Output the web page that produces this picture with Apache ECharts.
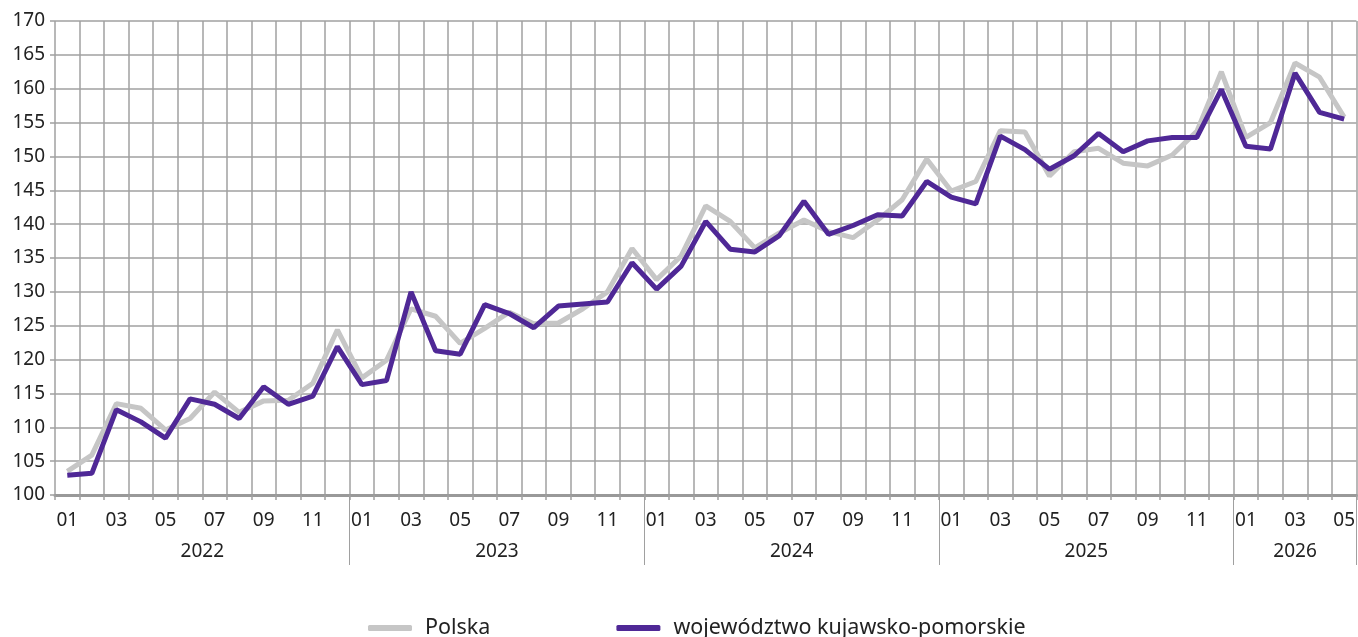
<!DOCTYPE html>
<html lang="pl">
<head>
<meta charset="UTF-8">
<title>Polska / województwo kujawsko-pomorskie</title>
<script src="https://cdn.jsdelivr.net/npm/echarts@6/dist/echarts.min.js"></script>
<style>
  html, body { margin: 0; padding: 0; background: #fff; }
  #main { width: 1358px; height: 637px; }
</style>
</head>
<body>
<div id="main"></div>
<script>
// months per year shown on the axis (2026 only up to May)
var years = ['2022', '2023', '2024', '2025', '2026'];
var monthsInYear = [12, 12, 12, 12, 5];
// where the year caption sits (month after the middle; 2026 is centred on 03)
var yearLabelMonth = ['07', '07', '07', '07', '03'];

var polska = [
  103.5, 105.9, 113.5, 112.8, 109.6, 111.3, 115.2, 112.2, 113.9, 114.0, 116.5, 124.4,
  117.3, 119.9, 127.5, 126.4, 122.4, 124.6, 127.0, 125.3, 125.4, 127.5, 130.0, 136.4,
  131.8, 135.3, 142.7, 140.4, 136.5, 138.7, 140.6, 138.9, 138.0, 140.6, 143.6, 149.6,
  144.9, 146.3, 153.8, 153.6, 147.1, 150.7, 151.2, 149.0, 148.6, 150.2, 153.7, 162.5,
  152.8, 155.0, 163.8, 161.7, 155.8
];
var kujPom = [
  102.9, 103.2, 112.6, 110.8, 108.4, 114.2, 113.4, 111.3, 116.0, 113.4, 114.6, 121.9,
  116.3, 116.9, 130.0, 121.3, 120.8, 128.1, 126.8, 124.7, 127.9, 128.2, 128.5, 134.3,
  130.4, 133.8, 140.4, 136.3, 135.9, 138.3, 143.4, 138.5, 139.8, 141.4, 141.2, 146.3,
  144.0, 143.0, 153.0, 151.0, 148.1, 150.1, 153.4, 150.7, 152.3, 152.8, 152.8, 159.9,
  151.5, 151.1, 162.3, 156.5, 155.5
];

var categories = [];
years.forEach(function (y, k) {
  for (var m = 1; m <= monthsInYear[k]; m++) {
    categories.push(y + '-' + (m < 10 ? '0' + m : '' + m));
  }
});

var FONT = 'Noto Sans';
var GRID_COLOR = '#a0a0a0';

var chart = echarts.init(document.getElementById('main'));
var option = {
  animation: false,
  textStyle: { fontFamily: FONT },
  grid: { left: 55, right: 0, top: 21, bottom: 142, containLabel: false },
  legend: {
    left: 363,
    top: 612,
    itemGap: 126,
    itemWidth: 44,
    itemHeight: 6,
    icon: 'roundRect',
    textStyle: { fontSize: 21.5, color: '#222', fontFamily: FONT, padding: [0, 0, 0, 8] },
    data: ['Polska', 'województwo kujawsko-pomorskie']
  },
  xAxis: [
    {
      type: 'category',
      data: categories,
      boundaryGap: true,
      axisLine: { show: true, lineStyle: { color: '#999', width: 3 } },
      axisTick: { show: true, interval: 0, length: 5, lineStyle: { color: GRID_COLOR, width: 1.5 } },
      axisLabel: {
        interval: function (idx) { return idx % 2 === 0; },
        formatter: function (v) { return v.slice(5); },
        color: '#222', fontSize: 19, margin: 16, fontFamily: FONT
      },
      splitLine: { show: true, interval: 0, lineStyle: { color: GRID_COLOR, width: 1.5 } }
    },
    {
      type: 'category',
      data: categories,
      position: 'bottom',
      boundaryGap: true,
      axisLine: { show: false },
      axisTick: {
        show: true,
        length: 70,
        interval: function (idx, v) { return idx > 0 && v.slice(5) === '01'; },
        lineStyle: { color: '#a0a0a0', width: 1 }
      },
      axisLabel: {
        interval: function (idx, v) {
          var k = years.indexOf(v.slice(0, 4));
          return v.slice(5) === yearLabelMonth[k];
        },
        formatter: function (v) {
          var y = v.slice(0, 4);
          return y === '2026' ? '{c|' + y + '}' : '{s|' + y + '}';
        },
        rich: {
          s: { fontSize: 19, color: '#222', fontFamily: FONT, padding: [0, 24.6, 0, 0] },
          c: { fontSize: 19, color: '#222', fontFamily: FONT }
        },
        margin: 47
      },
      splitLine: { show: false }
    }
  ],
  yAxis: {
    type: 'value',
    min: 100,
    max: 170,
    interval: 5,
    axisLine: { show: false },
    axisTick: { show: true, length: 5, lineStyle: { color: GRID_COLOR, width: 1.5 } },
    axisLabel: { color: '#222', fontSize: 19, margin: 10, fontFamily: FONT },
    splitLine: { show: true, lineStyle: { color: GRID_COLOR, width: 1.5 } }
  },
  series: [
    {
      name: 'Polska',
      type: 'line',
      data: polska,
      symbol: 'none',
      color: '#c6c6c6',
      lineStyle: { color: '#c6c6c6', width: 5 },
      z: 2
    },
    {
      name: 'województwo kujawsko-pomorskie',
      type: 'line',
      data: kujPom,
      symbol: 'none',
      color: '#4f2896',
      lineStyle: { color: '#4f2896', width: 5 },
      z: 3
    }
  ]
};
chart.setOption(option);
</script>
</body>
</html>
